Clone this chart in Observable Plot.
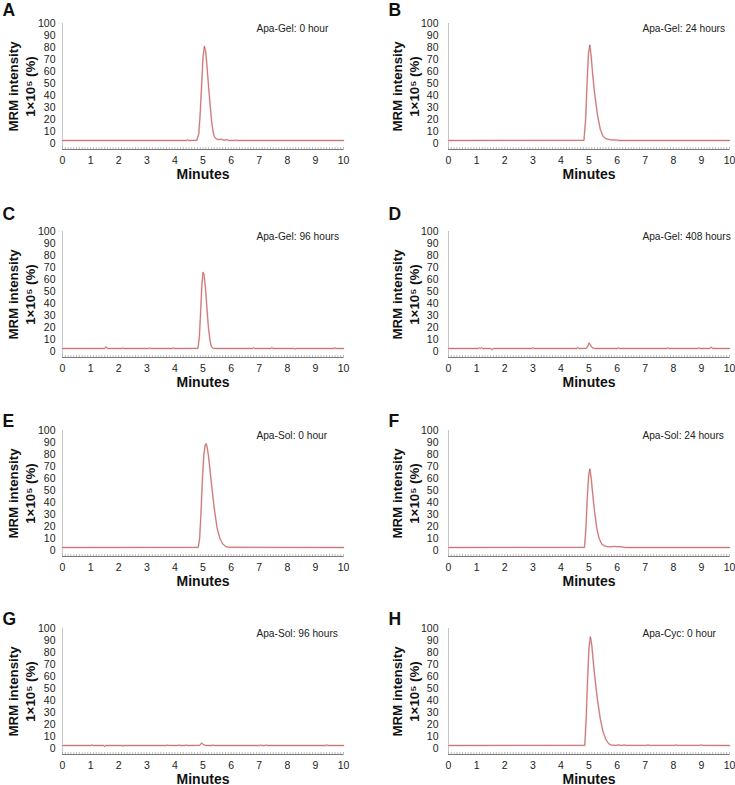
<!DOCTYPE html>
<html>
<head>
<meta charset="utf-8">
<script src="https://cdn.jsdelivr.net/npm/d3@7"></script>
<script src="https://cdn.jsdelivr.net/npm/@observablehq/plot@0.6"></script>
<style>
  body { margin: 0; background: #fff; }
  #fig { position: relative; width: 735px; height: 785px; overflow: hidden; font-family: "Liberation Sans", Arial, sans-serif; }
  #fig .panel { position: absolute; }
</style>
</head>
<body>
<div id="fig"></div>
<script>
// ---------- data ----------
const panelLetters = ["A", "B", "C", "D", "E", "F", "G", "H"];
const sampleLabels = [
  "Apa-Gel: 0 hour", "Apa-Gel: 24 hours",
  "Apa-Gel: 96 hours", "Apa-Gel: 408 hours",
  "Apa-Sol: 0 hour", "Apa-Sol: 24 hours",
  "Apa-Sol: 96 hours", "Apa-Cyc: 0 hour"
];
const xTicks = [0, 1, 2, 3, 4, 5, 6, 7, 8, 9, 10];
const yTicks = [0, 10, 20, 30, 40, 50, 60, 70, 80, 90, 100];
const yLabelLine1 = "MRM intensity";
const yLabelLine2 = "1×10⁵ (%)";
const xLabel = "Minutes";

const minutesA   = [0, 4.42, 4.45, 4.48, 4.78, 4.85, 4.90, 4.95, 5.00, 5.05, 5.10, 5.15, 5.20, 5.25, 5.30, 5.35, 5.40, 5.45, 5.50, 5.60, 5.65, 5.70, 5.80, 5.85, 5.90, 6.12, 6.15, 6.18, 10];
const intensityA = [2.5, 2.5, 3.2, 2.5, 2.6, 8, 25, 48, 72, 81, 76, 62, 47, 33, 20, 11, 6, 4.2, 3.6, 3.2, 3.8, 3.0, 2.8, 3.3, 2.6, 2.5, 3.0, 2.5, 2.5];

const minutesB   = [0, 4.82, 4.88, 4.93, 4.98, 5.03, 5.08, 5.13, 5.20, 5.30, 5.40, 5.50, 5.60, 5.70, 5.80, 5.90, 6.00, 6.10, 10];
const intensityB = [2.5, 2.6, 20, 50, 75, 82, 72, 58, 42, 24, 12, 6, 4, 3.4, 3.0, 3.0, 2.8, 2.5, 2.5];

const minutesC   = [0, 1.50, 1.55, 1.60, 2.12, 2.15, 2.18, 3.07, 3.10, 3.13, 3.92, 3.95, 3.98, 4.82, 4.87, 4.92, 4.96, 5.00, 5.04, 5.09, 5.14, 5.19, 5.25, 5.30, 5.36, 5.42, 6.77, 6.80, 6.83, 7.42, 7.45, 7.48, 8.27, 8.30, 8.33, 9.67, 9.70, 9.73, 10];
const intensityC = [2.5, 2.5, 4.0, 2.5, 2.5, 3.0, 2.5, 2.5, 3.0, 2.5, 2.5, 3.2, 2.5, 2.6, 12, 35, 56, 66, 64, 52, 36, 21, 9, 4, 2.8, 2.5, 2.5, 3.1, 2.5, 2.5, 3.3, 2.5, 2.5, 2.0, 2.5, 2.5, 3.1, 2.5, 2.5];

const minutesD   = [0, 1.07, 1.10, 1.14, 1.18, 1.21, 1.50, 1.55, 1.60, 2.97, 3.00, 3.03, 4.57, 4.60, 4.63, 4.90, 4.97, 5.00, 5.05, 5.10, 5.15, 5.20, 6.02, 6.05, 6.08, 7.77, 7.80, 7.83, 8.87, 8.90, 8.93, 9.30, 9.35, 9.40, 10];
const intensityD = [2.5, 2.5, 3.0, 2.5, 3.2, 2.5, 2.5, 1.5, 2.5, 2.5, 3.2, 2.5, 2.5, 3.3, 2.5, 2.6, 5.0, 7.2, 5.5, 3.5, 2.8, 2.5, 2.5, 3.2, 2.5, 2.5, 3.2, 2.5, 2.5, 3.2, 2.5, 2.5, 3.8, 2.5, 2.5];

const minutesE   = [0, 4.83, 4.88, 4.93, 4.98, 5.03, 5.08, 5.11, 5.15, 5.20, 5.30, 5.40, 5.50, 5.60, 5.70, 5.80, 5.90, 10];
const intensityE = [2.5, 2.6, 10, 32, 60, 80, 88, 89, 86, 78, 56, 35, 19, 10, 5.5, 3.5, 2.7, 2.5];

const minutesF   = [0, 4.84, 4.89, 4.94, 4.99, 5.03, 5.08, 5.14, 5.20, 5.28, 5.36, 5.45, 5.55, 5.65, 5.80, 5.90, 6.00, 6.10, 6.20, 6.30, 10];
const intensityF = [2.5, 2.6, 18, 45, 63, 68, 60, 45, 32, 18, 10, 5.5, 3.8, 3.2, 3.1, 3.5, 3.1, 3.3, 2.9, 2.5, 2.5];

const minutesG   = [0, 1.02, 1.05, 1.08, 1.47, 1.50, 1.53, 2.12, 2.15, 2.18, 3.72, 3.75, 3.78, 4.12, 4.15, 4.18, 4.37, 4.40, 4.43, 4.88, 4.95, 5.02, 5.10, 5.32, 5.35, 5.38, 7.02, 7.05, 7.08, 7.22, 7.25, 7.28, 9.37, 9.40, 9.43, 10];
const intensityG = [2.5, 2.5, 3.1, 2.5, 2.5, 1.6, 2.5, 2.5, 1.8, 2.5, 2.5, 3.0, 2.5, 2.5, 3.0, 2.5, 2.5, 3.0, 2.5, 2.6, 4.6, 3.2, 2.5, 2.5, 3.0, 2.5, 2.5, 3.0, 2.5, 2.5, 3.0, 2.5, 2.5, 3.1, 2.5, 2.5];

const minutesH   = [0, 4.85, 4.90, 4.95, 5.00, 5.05, 5.10, 5.15, 5.20, 5.30, 5.40, 5.50, 5.60, 5.70, 5.80, 6.00, 6.05, 6.10, 6.22, 6.25, 6.28, 7.07, 7.10, 7.13, 8.07, 8.10, 8.13, 8.97, 9.00, 9.03, 10];
const intensityH = [2.5, 2.6, 25, 58, 84, 93, 86, 73, 61, 41, 25, 14, 7.5, 4, 2.8, 2.6, 3.2, 2.6, 2.6, 3.2, 2.6, 2.6, 3.2, 2.6, 2.6, 3.2, 2.6, 2.6, 3.3, 2.6, 2.5];

const minutesAll = [minutesA, minutesB, minutesC, minutesD, minutesE, minutesF, minutesG, minutesH];
const intensityAll = [intensityA, intensityB, intensityC, intensityD, intensityE, intensityF, intensityG, intensityH];

// ---------- layout ----------
const yMin = -5, yMax = 100, xMin = 0, xMax = 10;
const minorTicks = d3.range(0, 101).map(k => k / 10);
const colLeft = [0, 368];
const rowTop = [-1, 207, 406, 604];
const letterDy = [-20, -24, -16, -16];

const fig = document.getElementById("fig");

panelLetters.forEach((letter, i) => {
  const col = i % 2, row = Math.floor(i / 2);
  const data = minutesAll[i].map((t, k) => ({t, v: intensityAll[i][k]}));
  const chart = Plot.plot({
    width: 367,
    height: 190,
    marginLeft: col ? 80 : 62,
    marginRight: col ? 6 : 24,
    marginTop: 24,
    marginBottom: 40,
    style: {fontFamily: "'Liberation Sans', Arial, sans-serif", overflow: "visible", background: "transparent", color: "#222"},
    x: {domain: [xMin, xMax], label: null},
    y: {domain: [yMin, yMax], label: null},
    marks: [
      Plot.ruleX([xMin], {y1: yMin, y2: yMax, stroke: "#c6c6c6", strokeWidth: 1}),
      Plot.ruleX(minorTicks, {y1: yMin - 0.8, y2: yMin + 1.6, stroke: "#a8a8a8", strokeWidth: 0.8}),
      Plot.ruleY([yMin], {stroke: "#7a7a7a", strokeWidth: 1.2}),
      Plot.axisY({ticks: yTicks, tickSize: 0, tickPadding: col ? 10 : 7, fontSize: 10.5, label: null}),
      Plot.axisX({ticks: xTicks, tickSize: 0, tickPadding: 7, fontSize: 10.5, label: null}),
      Plot.line(data, {x: "t", y: "v", stroke: "#f0c6c6", strokeWidth: 1.8}),
      Plot.line(data, {x: "t", y: "v", stroke: "#b04c4c", strokeWidth: 0.65}),
      Plot.text([sampleLabels[i]], {x: () => 6.9, y: () => 96, textAnchor: "start", fontSize: 10.2, fill: "#222"}),
      Plot.text([letter], {frameAnchor: "top-left", dx: -60, dy: letterDy[row], textAnchor: "start", lineAnchor: "top", fontSize: 17.5, fontWeight: "bold", fill: "#111"}),
      Plot.text([yLabelLine1], {frameAnchor: "left", rotate: -90, textAnchor: "middle", lineAnchor: "middle", dx: col ? -51 : -49, fontSize: 13.3, fontWeight: "bold", fill: "#111"}),
      Plot.text([yLabelLine2], {frameAnchor: "left", rotate: -90, textAnchor: "middle", lineAnchor: "middle", dx: col ? -34 : -32, fontSize: 13.3, fontWeight: "bold", fill: "#111"}),
      Plot.text([xLabel], {frameAnchor: "bottom", dy: 29, fontSize: 14, fontWeight: "bold", fill: "#111"})
    ]
  });
  chart.classList.add("panel");
  chart.style.left = colLeft[col] + "px";
  chart.style.top = rowTop[row] + "px";
  fig.appendChild(chart);
});
</script>
</body>
</html>
